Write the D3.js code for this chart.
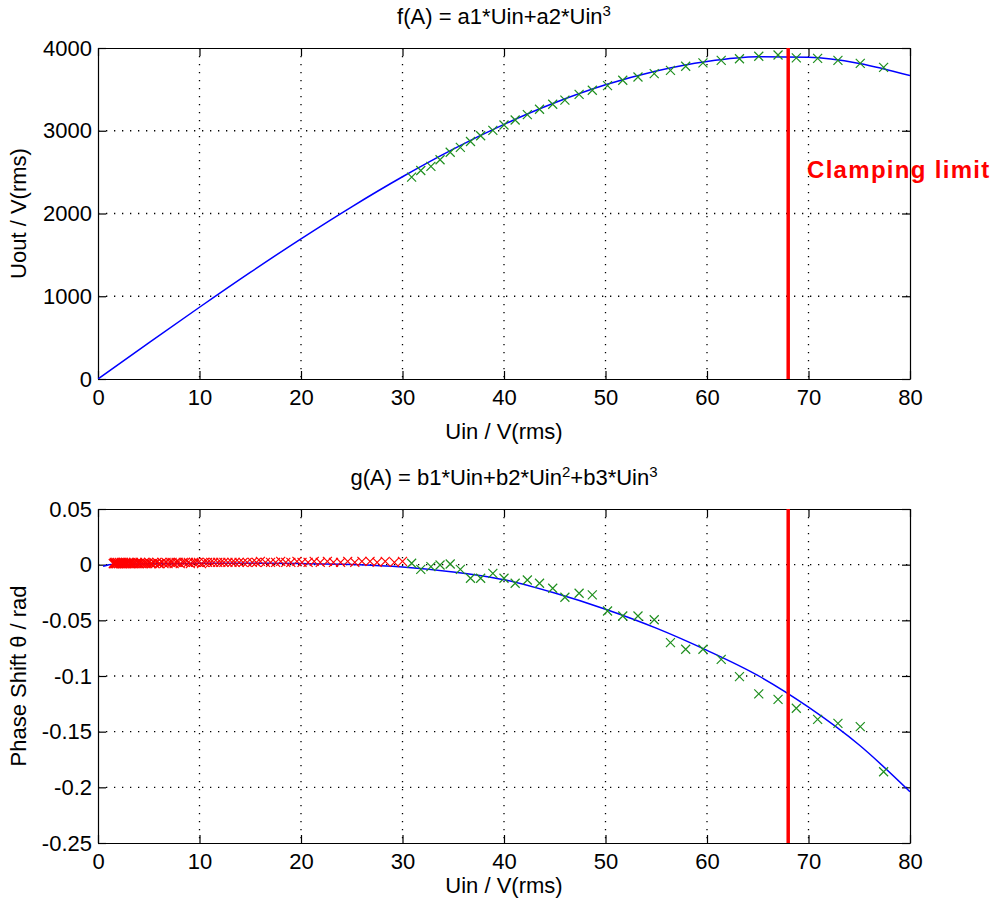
<!DOCTYPE html>
<html>
<head>
  <meta charset="utf-8">
  <script src="https://d3js.org/d3.v7.min.js"></script>
  <style>
    body { margin: 0; background: #fff; }
    svg text { font-family: "Liberation Sans", Arial, sans-serif; fill: #000; }
  </style>
</head>
<body>
<script type="text/javascript">
  // x axis ticks (shared)
  var xTicks = [0, 10, 20, 30, 40, 50, 60, 70, 80];
  var ampTicks = [0, 1000, 2000, 3000, 4000];
  var phaseTicks = [0.05, 0, -0.05, -0.1, -0.15, -0.2, -0.25];

  // clamping limit, Uin
  var clampU = 68;

  // fitted curve f(A)
  var fitU = [0, 5, 10, 15, 20, 25, 30, 35, 40, 45, 50, 55, 60, 65, 70, 75, 80];
  var fitUout = [0, 436, 867, 1288, 1694, 2081, 2444, 2778, 3077, 3338, 3555, 3723, 3838, 3895, 3888, 3814, 3666];

  // fitted curve g(A)
  var fitPhaseU = [0.5, 1.5, 5, 10, 15, 20, 25, 30, 35, 40, 45, 50, 55, 60, 65, 70, 75, 80];
  var fitPhase = [-0.0015, 0.0003, 0.0008, 0.0012, 0.0013, 0.0010, 0.0002, -0.0020, -0.0065, -0.0135,
                  -0.0255, -0.0400, -0.0570, -0.0770, -0.0995, -0.1280, -0.1620, -0.2040];

  // measured points (green)
  var measU = [30.9, 31.8, 32.8, 33.7, 34.7, 35.7, 36.7, 37.7, 38.9, 40.0, 41.1, 42.3, 43.5, 44.8, 46.0, 47.4,
               48.7, 50.2, 51.7, 53.2, 54.8, 56.4, 57.9, 59.6, 61.4, 63.2, 65.1, 67.0, 68.8, 70.9, 72.9, 75.1, 77.4];
  var measUout = [2440, 2520, 2570, 2650, 2740, 2800, 2870, 2940, 3005, 3070, 3130, 3195, 3260, 3320, 3370, 3440,
                  3490, 3545, 3610, 3650, 3690, 3730, 3780, 3820, 3850, 3870, 3900, 3915, 3880, 3875, 3850, 3815, 3765];
  var measPhase = [0.0013, -0.0042, -0.0018, -0.0003, 0.0006, -0.0042, -0.0122, -0.0122, -0.0078, -0.0122, -0.0167,
                   -0.0138, -0.0167, -0.0212, -0.0293, -0.0257, -0.0272, -0.0416, -0.0461, -0.0461, -0.0495, -0.0700,
                   -0.0760, -0.0760, -0.0850, -0.1006, -0.1160, -0.1210, -0.1290, -0.1390, -0.1425, -0.1455, -0.1860];

  // low-level points (red), phase only
  var lowU = [1.5, 1.55, 1.6, 1.65, 1.7, 1.75, 1.8, 1.85, 1.9, 2.0, 2.05, 2.1, 2.2, 2.25, 2.3, 2.4, 2.45, 2.5, 2.6, 2.7,
              2.75, 2.8, 2.9, 3.0, 3.1, 3.2, 3.25, 3.35, 3.45, 3.5, 3.6, 3.8, 3.9, 4.0, 4.1, 4.2, 4.3, 4.5, 4.6, 4.7,
              4.9, 5.0, 5.2, 5.3, 5.5, 5.6, 5.8, 6.0, 6.1, 6.3, 6.5, 6.7, 6.9, 7.1, 7.3, 7.5, 7.7, 7.9, 8.1, 8.4,
              8.6, 8.9, 9.1, 9.4, 9.6, 9.9, 10.2, 10.5, 10.8, 11.1, 11.4, 11.8, 12.1, 12.4, 12.8, 13.2, 13.5, 13.9, 14.3, 14.7,
              15.2, 15.6, 16.0, 16.5, 17.0, 17.5, 18.0, 18.5, 19.0, 19.6, 20.1, 20.7, 21.3, 21.9, 22.6, 23.2, 23.9, 24.6, 25.3, 26.0,
              26.8, 27.5, 28.3, 29.2, 30.0];
  var lowPhase = [0.001, 0.001, 0.002, 0.001, 0.001, 0.002, 0.001, 0.001, 0.002, 0.001,
                  0.001, 0.002, 0.001, 0.001, 0.002, 0.001, 0.001, 0.002, 0.001, 0.001,
                  0.002, 0.001, 0.001, 0.002, 0.001, 0.001, 0.002, 0.001, 0.001, 0.002,
                  0.001, 0.001, 0.002, 0.001, 0.001, 0.002, 0.001, 0.001, 0.002, 0.001,
                  0.001, 0.002, 0.001, 0.001, 0.002, 0.001, 0.002, 0.001, 0.001, 0.002,
                  0.001, 0.002, 0.001, 0.002, 0.002, 0.001, 0.002, 0.002, 0.001, 0.002,
                  0.002, 0.002, 0.001, 0.002, 0.002, 0.002, 0.001, 0.002, 0.002, 0.002,
                  0.002, 0.002, 0.002, 0.002, 0.002, 0.002, 0.002, 0.002, 0.002, 0.002,
                  0.002, 0.002, 0.003, 0.002, 0.002, 0.002, 0.003, 0.002, 0.002, 0.003,
                  0.002, 0.002, 0.003, 0.002, 0.003, 0.002, 0.002, 0.003, 0.002, 0.003,
                  0.003, 0.002, 0.003, 0.002, 0.003];

  var W = 996, H = 907;
  var left = 98, right = 910;
  var fontSize = 22;

  var svg = d3.select("body").append("svg")
      .attr("width", W)
      .attr("height", H);

  function zip(a, b) {
    return a.map(function (v, i) { return [v, b[i]]; });
  }

  function drawPanel(opt) {
    var x = d3.scaleLinear().domain([0, 80]).range([left, right]);
    var y = d3.scaleLinear().domain(opt.yDomain).range([opt.bottom, opt.top]);
    var g = svg.append("g");
    var clipId = "clip" + opt.id;

    g.append("clipPath").attr("id", clipId)
      .append("rect")
        .attr("x", left).attr("y", opt.top)
        .attr("width", right - left).attr("height", opt.bottom - opt.top);

    // dotted grid
    g.selectAll(".vgrid").data(xTicks.slice(1, -1)).enter().append("line")
      .attr("x1", function (d) { return x(d); }).attr("x2", function (d) { return x(d); })
      .attr("y1", opt.top).attr("y2", opt.bottom)
      .attr("stroke", "#000").attr("stroke-width", 1.3)
      .attr("stroke-dasharray", "1.3,6.7");
    g.selectAll(".hgrid").data(opt.yTicks.filter(function (d) {
        return d !== opt.yDomain[0] && d !== opt.yDomain[1];
      })).enter().append("line")
      .attr("x1", left).attr("x2", right)
      .attr("y1", function (d) { return y(d); }).attr("y2", function (d) { return y(d); })
      .attr("stroke", "#000").attr("stroke-width", 1.3)
      .attr("stroke-dasharray", "1.3,6.7");

    // axes (ticks inside, box on)
    var tl = 8;
    g.append("g").attr("transform", "translate(0," + opt.bottom + ")")
      .call(d3.axisBottom(x).tickValues(xTicks).tickSizeInner(-tl).tickSizeOuter(0).tickPadding(10));
    g.append("g").attr("transform", "translate(0," + opt.top + ")")
      .call(d3.axisTop(x).tickValues(xTicks).tickSizeInner(-tl).tickSizeOuter(0).tickFormat(""));
    g.append("g").attr("transform", "translate(" + left + ",0)")
      .call(d3.axisLeft(y).tickValues(opt.yTicks).tickSizeInner(-tl).tickSizeOuter(0).tickPadding(6)
        .tickFormat(function (d) { return String(d); }));
    g.append("g").attr("transform", "translate(" + right + ",0)")
      .call(d3.axisRight(y).tickValues(opt.yTicks).tickSizeInner(-tl).tickSizeOuter(0).tickFormat(""));

    g.selectAll(".domain").attr("stroke", "#000").attr("stroke-width", 1.2);
    g.selectAll(".tick line").attr("stroke", "#000").attr("stroke-width", 1.2);
    g.selectAll(".tick text").attr("font-size", fontSize)
      .attr("font-family", "Liberation Sans, Arial, sans-serif").attr("fill", "#000");

    var plot = g.append("g").attr("clip-path", "url(#" + clipId + ")");

    // fitted curve
    var line = d3.line()
      .x(function (d) { return x(d[0]); })
      .y(function (d) { return y(d[1]); })
      .curve(d3.curveMonotoneX);
    plot.append("path").datum(opt.fit)
      .attr("d", line).attr("fill", "none")
      .attr("stroke", "#0000ff").attr("stroke-width", 1.5);

    // x markers
    function markers(data, color) {
      var s = 4.5;
      plot.append("g").selectAll("path").data(data).enter().append("path")
        .attr("d", function (d) {
          var cx = x(d[0]), cy = y(d[1]);
          return "M" + (cx - s) + "," + (cy - s) + "L" + (cx + s) + "," + (cy + s) +
                 "M" + (cx - s) + "," + (cy + s) + "L" + (cx + s) + "," + (cy - s);
        })
        .attr("stroke", color).attr("stroke-width", 1.2).attr("fill", "none");
    }
    if (opt.low) markers(opt.low, "#ff0000");
    markers(opt.meas, "#1f8f1f");

    // clamping limit
    g.append("line")
      .attr("x1", x(clampU)).attr("x2", x(clampU))
      .attr("y1", opt.top).attr("y2", opt.bottom)
      .attr("stroke", "#ff0000").attr("stroke-width", 3.5);

    // title
    var t = g.append("text")
      .attr("x", (left + right) / 2).attr("y", opt.top - 24)
      .attr("text-anchor", "middle").attr("font-size", fontSize);
    opt.title.forEach(function (part) {
      var sp = t.append("tspan").text(part[0]);
      if (part[1]) sp.attr("baseline-shift", "super").attr("font-size", 15);
    });

    // axis labels
    g.append("text")
      .attr("x", (left + right) / 2).attr("y", opt.bottom + opt.xLabelOffset)
      .attr("text-anchor", "middle").attr("font-size", fontSize)
      .text("Uin / V(rms)");
    g.append("text")
      .attr("transform", "translate(26," + (opt.top + opt.bottom) / 2 + ") rotate(-90)")
      .attr("text-anchor", "middle").attr("font-size", fontSize)
      .text(opt.yLabel);

    return { x: x, y: y, g: g };
  }

  var ampPanel = drawPanel({
    id: 1, top: 48, bottom: 379, yDomain: [0, 4000], yTicks: ampTicks,
    fit: zip(fitU, fitUout), meas: zip(measU, measUout),
    title: [["f(A) = a1*Uin+a2*Uin", false], ["3", true]],
    yLabel: "Uout / V(rms)", xLabelOffset: 60
  });

  ampPanel.g.append("text")
    .attr("x", 807).attr("y", 178)
    .attr("font-size", 24).attr("font-weight", "bold")
    .attr("letter-spacing", 1.3)
    .style("fill", "#ff0000")
    .text("Clamping limit");

  drawPanel({
    id: 2, top: 509, bottom: 843, yDomain: [-0.25, 0.05], yTicks: phaseTicks,
    fit: zip(fitPhaseU, fitPhase), meas: zip(measU, measPhase), low: zip(lowU, lowPhase),
    title: [["g(A) = b1*Uin+b2*Uin", false], ["2", true], ["+b3*Uin", false], ["3", true]],
    yLabel: "Phase Shift \u03b8 / rad", xLabelOffset: 50
  });
</script>
</body>
</html>
